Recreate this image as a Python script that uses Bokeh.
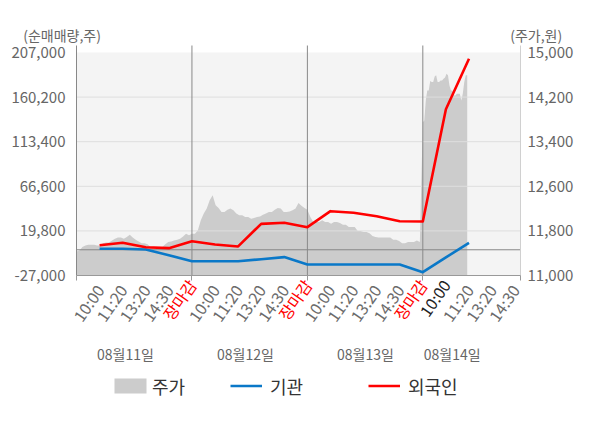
import math
from bokeh.plotting import figure
from bokeh.models import (Range1d, LinearAxis, FixedTicker, Label, Legend, LegendItem,
                          BoxAnnotation, NumeralTickFormatter)
from bokeh.embed import file_html
from bokeh.resources import INLINE

# ---------------- data ----------------
dates = ["08월11일", "08월12일", "08월13일", "08월14일"]
time_labels = ["10:00", "11:20", "13:20", "14:30", "장마감"]
left_ticks = [-27000, 19800, 66600, 113400, 160200, 207000]
right_ticks = [11000, 11800, 12600, 13400, 14200, 15000]

# 주가 (price), 10-minute samples from 09:00 for days 1-3
price_day1 = [11430, 11450, 11510, 11540, 11550, 11550, 11550, 11540, 11540, 11580,
              11590, 11590, 11630, 11660, 11680, 11680, 11660, 11690, 11730, 11680,
              11640, 11610, 11580, 11580, 11560, 11510, 11490, 11480, 11480, 11510,
              11560, 11600, 11610, 11630, 11640, 11660, 11700, 11750, 11720]
price_day2 = [11750, 11750, 11810, 11990, 12110, 12200, 12350, 12440, 12260, 12210,
              12140, 12140, 12180, 12200, 12170, 12110, 12080, 12080, 12050, 12050,
              12020, 12030, 12050, 12060, 12090, 12110, 12140, 12140, 12180, 12210,
              12200, 12140, 12140, 12150, 12170, 12200, 12300, 12250, 12210]
price_day3 = [12180, 12050, 11960, 11960, 11960, 11990, 11960, 11960, 11930, 11960,
              11960, 11940, 11910, 11910, 11870, 11870, 11870, 11800, 11800, 11780,
              11780, 11760, 11710, 11690, 11680, 11680, 11680, 11680, 11680, 11640,
              11640, 11620, 11580, 11580, 11600, 11600, 11600, 11630, 11600]
# day 4, 5-minute samples from 09:00
price_day4 = [13750, 13780, 14140, 14320, 14320, 14490, 14470, 14470, 14570, 14590,
              14470, 14470, 14500, 14500, 14530, 14550, 14620, 14590, 14410, 14320,
              14320, 14230, 14230, 14260, 14260, 14260, 14140, 14260, 14470, 14590, 14590]

# 순매매량 at each time label (10:00, 11:20, 13:20, 14:30, 장마감 per day)
inst = [1000, 1000, 300, -5700, -12000,
        -12000, -12000, -9900, -7700, -15400,
        -15400, -15400, -15400, -15400, -23500,
        -8000, 7300]
foreign = [4800, 7300, 2700, 1700, 9000,
           5500, 3500, 27200, 28300, 23700,
           40500, 38800, 35200, 30000, 29700,
           147500, 200500]

# ---------------- layout constants ----------------
FONT = "Noto Sans CJK KR"
DAY = 390                 # minutes per session on the axis (09:00-15:30)
SLOT = DAY / 5            # spacing of the time labels
X_END = 3 * DAY + 330     # axis ends at 14:30 of the last day
W, H = 600, 428
FL, FR, FT, FB = 76, 520, 45, 275     # plot area in page px
Y_TOP_PX = 52                          # where 207,000 / 15,000 sit
ky = (left_ticks[-1] - left_ticks[0]) / (FB - Y_TOP_PX)
kp = (right_ticks[-1] - right_ticks[0]) / (FB - Y_TOP_PX)
kx = X_END / (FR - FL)


def px2x(px):
    return (px - FL) * kx


def py2y(py):
    return left_ticks[-1] - (py - Y_TOP_PX) * ky


def py2p(py):
    return right_ticks[-1] - (py - Y_TOP_PX) * kp


Y_LINE_TOP = py2y(FT)

# ---------------- figure (frame = whole canvas) ----------------
p = figure(width=W, height=H, output_backend="svg", toolbar_location=None,
           x_range=Range1d(px2x(0), px2x(W)), y_range=Range1d(py2y(H), py2y(0)),
           min_border=0, background_fill_color="white", border_fill_color="white",
           outline_line_color=None)
p.extra_y_ranges = {"price": Range1d(py2p(H), py2p(0))}
p.xgrid.visible = False
p.ygrid.visible = False


def style_labels(ax, size="15px", color="#666666"):
    ax.major_label_text_font = FONT
    ax.major_label_text_font_size = size
    ax.major_label_text_color = color
    ax.major_tick_line_color = None
    ax.minor_tick_line_color = None
    ax.major_tick_out = 0
    ax.major_tick_in = 0
    ax.axis_line_color = None


# left axis
ya = p.yaxis[0]
ya.fixed_location = 0
ya.ticker = FixedTicker(ticks=left_ticks)
ya.formatter = NumeralTickFormatter(format="0,0")
style_labels(ya)
ya.major_label_standoff = 11

# right axis
ra = LinearAxis(y_range_name="price", ticker=FixedTicker(ticks=right_ticks),
                formatter=NumeralTickFormatter(format="0,0"), fixed_location=X_END)
style_labels(ra)
ra.major_label_standoff = 7
p.add_layout(ra, "right")

# tick label groups: gray times, highlighted (current day first), red 장마감
gray_pos, gray_txt, dark_pos, dark_txt, close_pos = [], {}, [], {}, []
for d in range(4):
    n = 5 if d < 3 else 4
    for k in range(n):
        pos = d * DAY + (k + 1) * SLOT
        lab = time_labels[k]
        if lab == "장마감":
            close_pos.append(pos)
        elif d == 3 and k == 0:
            dark_pos.append(pos)
            dark_txt[pos] = lab
        else:
            gray_pos.append(pos)
            gray_txt[pos] = lab

ANG = math.radians(55)
xa = p.xaxis[0]
xa.fixed_location = left_ticks[0]
xa.ticker = FixedTicker(ticks=gray_pos, minor_ticks=[d * DAY for d in range(4)] + [X_END])
xa.major_label_overrides = gray_txt
style_labels(xa, size="16px", color="#6b6b6b")
xa.minor_tick_line_color = "#999999"
xa.minor_tick_out = 5
xa.minor_tick_in = 0
xa.major_label_orientation = ANG
xa.major_label_standoff = 6

for poss, txt, col in [(dark_pos, dark_txt, "#222222"),
                       (close_pos, {c: "장마감" for c in close_pos}, "#ff0000")]:
    ax = LinearAxis(ticker=FixedTicker(ticks=poss), fixed_location=left_ticks[0],
                    major_label_overrides=txt)
    style_labels(ax, size="16px", color=col)
    ax.major_label_orientation = ANG
    ax.major_label_standoff = 6
    p.add_layout(ax, "below")

# plot background
p.add_layout(BoxAnnotation(left=0, right=X_END, bottom=left_ticks[0], top=left_ticks[-1],
                           fill_color="#f4f4f4", fill_alpha=1, line_alpha=0,
                           level="underlay"))

# price area
px_all, pr_all = [], []
for d, (vals, step) in enumerate([(price_day1, 10), (price_day2, 10),
                                  (price_day3, 10), (price_day4, 5)]):
    for i, v in enumerate(vals):
        px_all.append(d * DAY + i * step)
        pr_all.append(v)
area = p.varea(x=px_all, y1=right_ticks[0], y2=pr_all, y_range_name="price",
               fill_color="#cccccc")

# grid lines, day separators, zero line, axis lines
inner = left_ticks[1:-1]
p.segment(x0=[0] * len(inner), x1=[X_END] * len(inner), y0=inner, y1=inner,
          line_color="#dedede", line_width=1)
seps = [d * DAY for d in range(1, 4)]
p.segment(x0=seps, x1=seps, y0=[left_ticks[0]] * 3, y1=[Y_LINE_TOP] * 3,
          line_color="#888888", line_width=1)
p.segment(x0=[0], x1=[X_END], y0=[0], y1=[0], line_color="#888888", line_width=1)
p.segment(x0=[0], x1=[0], y0=[left_ticks[0]], y1=[Y_LINE_TOP], line_color="#888888",
          line_width=1)
p.segment(x0=[X_END], x1=[X_END], y0=[left_ticks[0]], y1=[Y_LINE_TOP],
          line_color="#d0d0d0", line_width=1)
p.segment(x0=[0], x1=[X_END], y0=[left_ticks[0]], y1=[left_ticks[0]],
          line_color="#999999", line_width=1)

# lines
lx = [(j // 5) * DAY + (j % 5 + 1) * SLOT for j in range(len(foreign))]
blue = p.line(lx, inst, line_color="#0a78c8", line_width=2.6, line_join="round")
red = p.line(lx, foreign, line_color="#ff0000", line_width=2.6, line_join="round")

# date labels
date_px = [125, 245, 365, 451.7]
for lab, dp in zip(dates, date_px):
    p.add_layout(Label(x=px2x(dp), y=py2y(353), text=lab, text_align="center",
                       text_baseline="middle", text_font=FONT, text_font_size="14px",
                       text_color="#666666"))

# axis titles
p.add_layout(Label(x=px2x(22.7), y=py2y(34), text="(순매매량,주)", text_align="left",
                   text_baseline="middle", text_font=FONT, text_font_size="14px",
                   text_color="#666666"))
p.add_layout(Label(x=px2x(561.7), y=py2y(34), text="(주가,원)", text_align="right",
                   text_baseline="middle", text_font=FONT, text_font_size="14px",
                   text_color="#666666"))

# legend
for lab, r, gx, gw in [("주가", area, 110, 40), ("기관", blue, 230, 32),
                       ("외국인", red, 368, 32)]:
    lg = Legend(items=[LegendItem(label=lab, renderers=[r])],
                location=(gx, H - 398.5), orientation="horizontal",
                glyph_width=gw, glyph_height=19, label_height=19,
                label_standoff=8 if lab != "주가" else 2,
                label_text_font=FONT, label_text_font_size="18px",
                label_text_color="#333333", padding=0, margin=0, spacing=0,
                border_line_alpha=0, background_fill_alpha=0)
    p.add_layout(lg)

open("out.html", "w").write(file_html(p, INLINE))
